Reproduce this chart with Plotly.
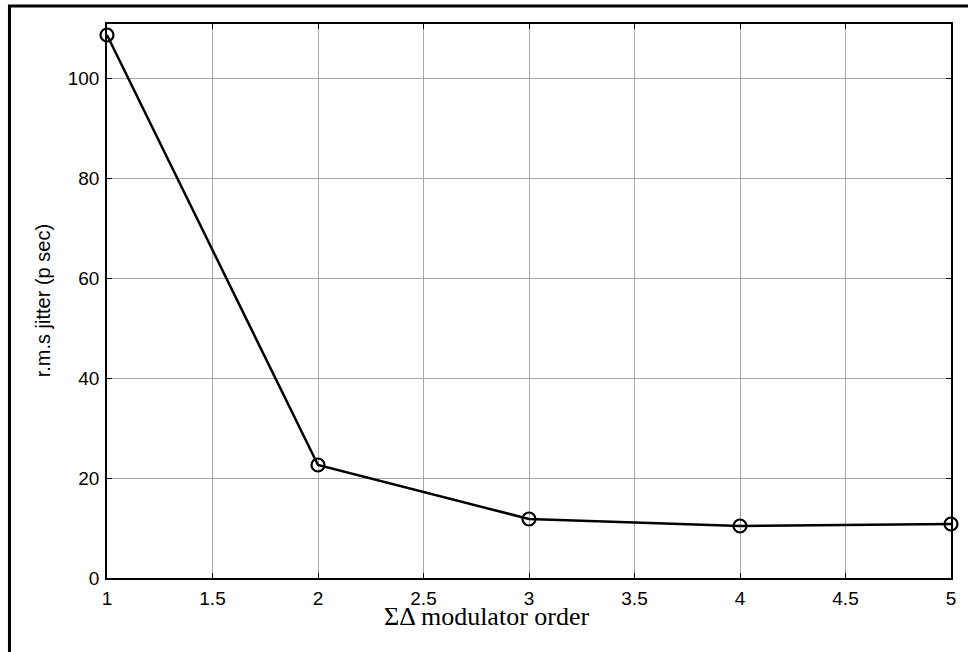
import plotly.graph_objects as go

order = [1, 2, 3, 4, 5]
jitter = [108.6, 22.6, 11.8, 10.4, 10.8]
x_ticks = [1, 1.5, 2, 2.5, 3, 3.5, 4, 4.5, 5]
x_tick_text = ["1", "1.5", "2", "2.5", "3", "3.5", "4", "4.5", "5"]
y_ticks = [0, 20, 40, 60, 80, 100]
y_tick_text = ["0", "20", "40", "60", "80", "100"]

W, H = 968, 652
L, R, T, B = 107, 13, 24, 74
pw, ph = W - L - R, H - T - B

fig = go.Figure()
fig.add_trace(go.Scatter(
    x=order, y=jitter, mode="lines+markers",
    line=dict(color="black", width=2.5),
    marker=dict(symbol="circle-open", size=13, color="black", line=dict(width=2.2, color="black")),
    showlegend=False, cliponaxis=False,
))

axis_common = dict(
    showline=True, linecolor="black", linewidth=1.5, mirror="ticks",
    ticks="inside", ticklen=5, tickwidth=1.2, tickcolor="black",
    showgrid=True, gridcolor="#a8a8a8", gridwidth=1, zeroline=False,
    tickfont=dict(family="Liberation Sans, Arial", size=19, color="black"),
)
fig.update_xaxes(range=[1, 5], tickvals=x_ticks, ticktext=x_tick_text,
                 ticklabelstandoff=2, **axis_common)
fig.update_yaxes(range=[0, 110.8], tickvals=y_ticks, ticktext=y_tick_text,
                 ticklabelstandoff=2, **axis_common)

# outer frame
fig.add_shape(type="rect", xref="paper", yref="paper",
              x0=(9 - L) / pw, x1=(975 - L) / pw,
              y0=(H - B - 660) / ph, y1=(H - B - 6) / ph,
              line=dict(color="black", width=3), layer="above")

fig.add_annotation(text="r.m.s jitter (p sec)", xref="paper", yref="paper",
                   x=(43 - L) / pw, y=0.5, textangle=-90, showarrow=False,
                   font=dict(family="Liberation Sans, Arial", size=20, color="black"),
                   xanchor="center", yanchor="middle")
fig.add_annotation(text="ΣΔ modulator order", xref="paper", yref="paper",
                   x=(488 - L) / pw, y=(H - B - 616) / ph, showarrow=False,
                   font=dict(family="Liberation Serif, Times New Roman", size=26, color="black"),
                   xanchor="center", yanchor="middle")

fig.update_layout(width=W, height=H, margin=dict(l=L, r=R, t=T, b=B),
                  paper_bgcolor="white", plot_bgcolor="white")
fig.write_html("out.html", config={"displayModeBar": False},
               post_script="document.body.style.margin='0';document.body.style.overflow='hidden';")
